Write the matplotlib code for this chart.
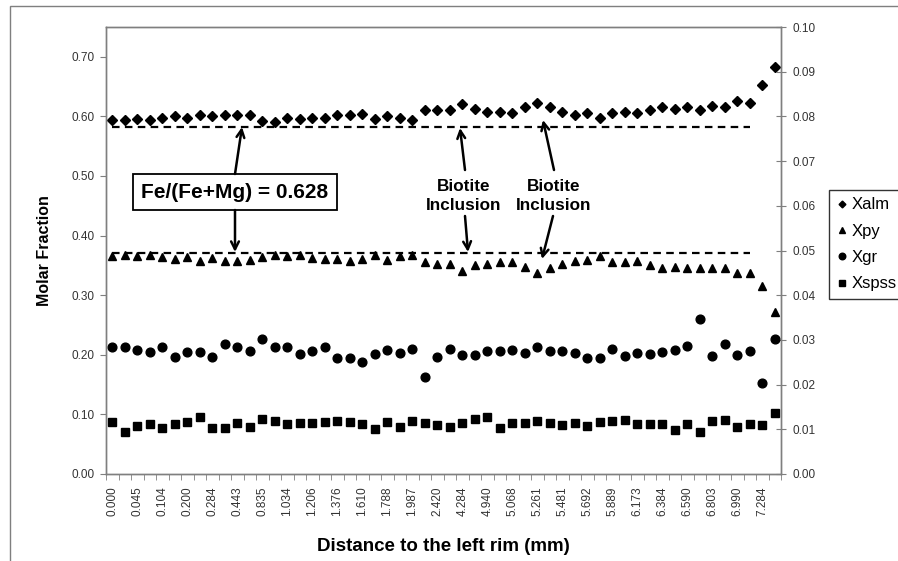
import numpy as np
import matplotlib
matplotlib.use('Agg')
import matplotlib.pyplot as plt
from matplotlib.patches import Rectangle

plt.rcParams['font.family'] = ['Liberation Sans', 'DejaVu Sans']

# distance labels (every other analysis point)
dist_labels = ['0.000', '0.045', '0.104', '0.200', '0.284', '0.443', '0.835',
               '1.034', '1.206', '1.376', '1.610', '1.788', '1.987', '2.420',
               '4.284', '4.940', '5.068', '5.261', '5.481', '5.692', '5.889',
               '6.173', '6.384', '6.590', '6.803', '6.990', '7.284']

# left axis
xalm = [0.594, 0.594, 0.596, 0.594, 0.597, 0.601, 0.598, 0.603, 0.601, 0.602,
        0.602, 0.603, 0.593, 0.591, 0.597, 0.595, 0.598, 0.598, 0.603, 0.603,
        0.604, 0.595, 0.601, 0.597, 0.594, 0.611, 0.611, 0.610, 0.621, 0.613,
        0.607, 0.607, 0.605, 0.615, 0.623, 0.615, 0.607, 0.603, 0.605, 0.598,
        0.605, 0.607, 0.605, 0.611, 0.615, 0.613, 0.615, 0.610, 0.618, 0.615,
        0.626, 0.622, 0.652, 0.683]
xpy = [0.365, 0.368, 0.366, 0.368, 0.364, 0.361, 0.364, 0.358, 0.362, 0.358,
       0.357, 0.359, 0.364, 0.368, 0.365, 0.367, 0.362, 0.361, 0.360, 0.358,
       0.360, 0.368, 0.359, 0.365, 0.367, 0.355, 0.353, 0.352, 0.341, 0.351,
       0.352, 0.355, 0.356, 0.347, 0.337, 0.345, 0.353, 0.358, 0.359, 0.365,
       0.355, 0.355, 0.357, 0.350, 0.345, 0.348, 0.345, 0.345, 0.345, 0.345,
       0.338, 0.338, 0.315, 0.272]
# right axis
xgr = [0.0283, 0.0283, 0.0277, 0.0272, 0.0283, 0.0261, 0.0272, 0.0272, 0.0261,
       0.0291, 0.0285, 0.0276, 0.0303, 0.0283, 0.0283, 0.0268, 0.0276, 0.0285,
       0.0259, 0.0259, 0.0250, 0.0268, 0.0277, 0.0271, 0.0279, 0.0218, 0.0262,
       0.0279, 0.0266, 0.0266, 0.0276, 0.0276, 0.0277, 0.0271, 0.0283, 0.0276,
       0.0276, 0.0271, 0.0260, 0.0260, 0.0280, 0.0264, 0.0271, 0.0268, 0.0274,
       0.0277, 0.0286, 0.0346, 0.0264, 0.0291, 0.0266, 0.0276, 0.0203, 0.0302]
xspss = [0.0117, 0.0095, 0.0108, 0.0111, 0.0104, 0.0112, 0.0116, 0.0128, 0.0104,
         0.0102, 0.0113, 0.0106, 0.0122, 0.0119, 0.0112, 0.0113, 0.0113, 0.0116,
         0.0119, 0.0116, 0.0112, 0.0100, 0.0116, 0.0106, 0.0119, 0.0113, 0.0109,
         0.0106, 0.0113, 0.0122, 0.0128, 0.0104, 0.0115, 0.0115, 0.0118, 0.0115,
         0.0109, 0.0115, 0.0107, 0.0116, 0.0118, 0.0121, 0.0111, 0.0111, 0.0111,
         0.0098, 0.0111, 0.0095, 0.0118, 0.0121, 0.0106, 0.0112, 0.0110, 0.0136]

# reference levels for Fe/(Fe+Mg) = 0.628
ref_alm = 0.583
ref_py = 0.370
ref_end = 51

n = len(xalm)
idx = np.arange(n)

W, H = 898, 561
fig = plt.figure(figsize=(W / 100, H / 100), dpi=100)
fig.patches.append(Rectangle((10 / W, -0.1), 1.2, 1.1 - 6 / H, transform=fig.transFigure,
                             fill=False, edgecolor='#7f7f7f', lw=1))

ax = fig.add_axes([106 / W, 1 - 474 / H, 675 / W, 447 / H])
ax2 = ax.twinx()

dash = dict(color='black', lw=1.6, dashes=(3.4, 2.4))
ax.plot(idx[:ref_end + 1], np.full(ref_end + 1, ref_alm), **dash)
ax.plot(idx[:ref_end + 1], np.full(ref_end + 1, ref_py), **dash)

h1, = ax.plot(idx, xalm, 'D', color='black', ms=4.6, ls='none', label='Xalm')
h2, = ax.plot(idx, xpy, '^', color='black', ms=6, ls='none', label='Xpy')
h3, = ax2.plot(idx, xgr, 'o', color='black', ms=6.3, ls='none', label='Xgr')
h4, = ax2.plot(idx, xspss, 's', color='black', ms=6, ls='none', label='Xspss')

ax.set_xlim(-0.5, n - 0.5)
ax.set_ylim(0, 0.75)
ax2.set_ylim(0, 0.10)
ax.set_yticks(np.arange(0, 0.71, 0.1))
ax.set_yticklabels(['%.2f' % v for v in np.arange(0, 0.71, 0.1)])
ax2.set_yticks(np.arange(0, 0.101, 0.01))
ax2.set_yticklabels(['%.2f' % v for v in np.arange(0, 0.101, 0.01)])

ax.set_xticks(idx[::2])
ax.set_xticklabels(dist_labels, rotation=90)
ax.set_xticks(np.arange(-0.5, n, 1), minor=True)
ax.tick_params(axis='x', which='major', length=0, pad=9, labelsize=8.5, labelcolor='#333333')
ax.tick_params(axis='x', which='minor', length=4, direction='out', color='#7f7f7f')
ax.tick_params(axis='y', length=4, direction='out', color='#7f7f7f', labelsize=8.5,
               labelcolor='#333333', pad=4)
ax2.tick_params(axis='y', length=7, direction='inout', color='#7f7f7f', labelsize=8.5,
                labelcolor='#333333', pad=5)

for a in (ax, ax2):
    for s in a.spines.values():
        s.set_color('#7f7f7f')
        s.set_linewidth(1)

ax.set_ylabel('Molar Fraction', fontsize=11.5, fontweight='bold', labelpad=14)
ax.set_xlabel('Distance to the left rim (mm)', fontsize=13.5, fontweight='bold', labelpad=16)


def px_x(p):
    return (p - 106) / 12.5 - 0.5


def px_y(p):
    return (474 - p) / 596


arrow = dict(arrowstyle='->', color='black', lw=1.8, mutation_scale=14, shrinkA=0, shrinkB=0)

ax.text(px_x(235), px_y(192), 'Fe/(Fe+Mg) = 0.628', fontsize=15, fontweight='bold',
        ha='center', va='center',
        bbox=dict(boxstyle='square,pad=0.42', fc='white', ec='black', lw=1.3))
ax.annotate('', xy=(px_x(242), px_y(127)), xytext=(px_x(235), px_y(174)), arrowprops=arrow)
ax.annotate('', xy=(px_x(235), px_y(252)), xytext=(px_x(235), px_y(210)), arrowprops=arrow)

for cx, up_tip, down_tip, up_tail, down_tail in [
        (464, (460, 128), (468, 252), (465, 170), (465, 216)),
        (554, (543, 120), (542, 259), (554, 170), (553, 216))]:
    ax.text(px_x(cx), px_y(196), 'Biotite\nInclusion', fontsize=12.3, fontweight='bold',
            ha='center', va='center', linespacing=1.3)
    ax.annotate('', xy=(px_x(up_tip[0]), px_y(up_tip[1])),
                xytext=(px_x(up_tail[0]), px_y(up_tail[1])), arrowprops=arrow)
    ax.annotate('', xy=(px_x(down_tip[0]), px_y(down_tip[1])),
                xytext=(px_x(down_tail[0]), px_y(down_tail[1])), arrowprops=arrow)

leg = fig.legend([h1, h2, h3, h4], ['Xalm', 'Xpy', 'Xgr', 'Xspss'],
                 loc='upper left', bbox_to_anchor=(829 / W, 1 - 190 / H),
                 fontsize=12, frameon=True, fancybox=False, markerscale=0.75,
                 handlelength=0.6, handletextpad=0.3, labelspacing=0.68,
                 borderpad=0.45, borderaxespad=0)
leg.get_frame().set_edgecolor('black')
leg.get_frame().set_linewidth(1)

fig.savefig('out.png', dpi=100)
